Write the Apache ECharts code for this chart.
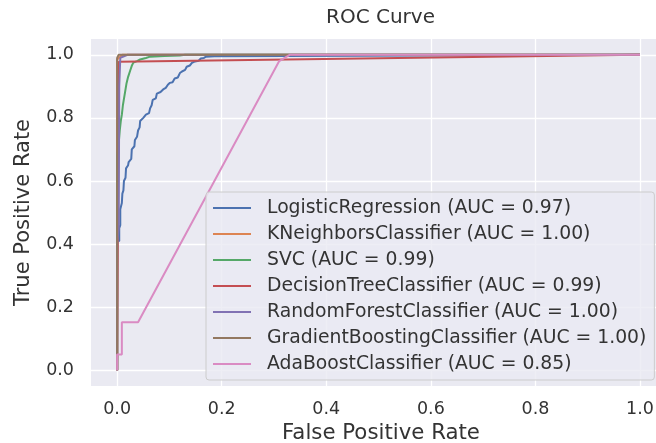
<!DOCTYPE html>
<html>
<head>
<meta charset="utf-8">
<script src="https://cdn.jsdelivr.net/npm/echarts@6/dist/echarts.min.js"></script>
<style>
    html, body { margin: 0; padding: 0; background: #fff; }
    #rocChart { width: 656px; height: 443px; }
</style>
</head>
<body>
<div id="rocChart"></div>
<script>
// tick labels
var xTicks = [0, 0.2, 0.4, 0.6, 0.8, 1.0];
var yTicks = [0, 0.2, 0.4, 0.6, 0.8, 1.0];

var modelNames = [
    'LogisticRegression (AUC = 0.97)',
    'KNeighborsClassifier (AUC = 1.00)',
    'SVC (AUC = 0.99)',
    'DecisionTreeClassifier (AUC = 0.99)',
    'RandomForestClassifier (AUC = 1.00)',
    'GradientBoostingClassifier (AUC = 1.00)',
    'AdaBoostClassifier (AUC = 0.85)'
];

// [fpr, tpr]
var logRegRoc = [[0, 0], [0, 0.41], [0.004, 0.41], [0.004, 0.45], [0.006, 0.46], [0.006, 0.51],
    [0.009, 0.53], [0.010, 0.56], [0.012, 0.57], [0.013, 0.60], [0.016, 0.61], [0.017, 0.64],
    [0.021, 0.65], [0.022, 0.66], [0.027, 0.67], [0.028, 0.70], [0.033, 0.71], [0.034, 0.73],
    [0.038, 0.74], [0.040, 0.76], [0.043, 0.77], [0.044, 0.79], [0.050, 0.80], [0.055, 0.81],
    [0.061, 0.815], [0.063, 0.83], [0.066, 0.84], [0.068, 0.857], [0.074, 0.862], [0.076, 0.877],
    [0.083, 0.882], [0.088, 0.89], [0.093, 0.895], [0.097, 0.905], [0.101, 0.911], [0.106, 0.913],
    [0.110, 0.925], [0.116, 0.928], [0.120, 0.942], [0.124, 0.947], [0.130, 0.952], [0.133, 0.962],
    [0.139, 0.966], [0.143, 0.974], [0.149, 0.979], [0.156, 0.981], [0.160, 0.988], [0.166, 0.990],
    [0.170, 0.994], [0.186, 0.995], [0.186, 1.0], [1, 1]];
var knnRoc = [[0, 0], [0, 0.985], [0.01, 1], [1, 1]];
var svcRoc = [[0, 0], [0, 0.68], [0.003, 0.72], [0.005, 0.76], [0.007, 0.79], [0.009, 0.81],
    [0.011, 0.84], [0.013, 0.86], [0.015, 0.88], [0.018, 0.91], [0.021, 0.93], [0.025, 0.95],
    [0.028, 0.965], [0.031, 0.975], [0.038, 0.98], [0.044, 0.985], [0.055, 0.99], [0.063, 0.994],
    [0.09, 0.996], [0.12, 0.998], [0.13, 1], [1, 1]];
var treeRoc = [[0, 0], [0.003, 0.978], [1, 1]];
var forestRoc = [[0, 0], [0, 0.40], [0.003, 0.45], [0.004, 0.90], [0.006, 0.99], [0.02, 1], [1, 1]];
var boostRoc = [[0, 0], [0, 0.99], [0.003, 1], [1, 1]];
var adaRoc = [[0, 0], [0, 0.05], [0.009, 0.05], [0.009, 0.152], [0.04, 0.152], [0.31, 0.98],
    [0.33, 1], [1, 1]];

var seabornDeep = ['#4C72B0', '#DD8452', '#55A868', '#C44E52', '#8172B3', '#937860', '#DA8BC3'];

var dom = document.getElementById('rocChart');
var myChart = echarts.init(dom, null, { renderer: 'canvas' });

var rocData = [logRegRoc, knnRoc, svcRoc, treeRoc, forestRoc, boostRoc, adaRoc];
var series = rocData.map(function (d, i) {
    return {
        name: modelNames[i],
        type: 'line',
        data: d,
        showSymbol: false,
        clip: false,
        lineStyle: { width: 2, color: seabornDeep[i] },
        itemStyle: { color: seabornDeep[i] }
    };
});

var textColor = '#333333';
var option = {
    animation: false,
    textStyle: { fontFamily: 'DejaVu Sans' },
    title: {
        text: 'ROC Curve',
        left: 321,
        top: 3,
        textStyle: { fontFamily: 'DejaVu Sans', fontSize: 20, fontWeight: 'normal', color: textColor }
    },
    grid: {
        left: 91,
        right: 0,
        top: 39,
        bottom: 57,
        outerBoundsMode: 'none',
        show: true,
        backgroundColor: '#EAEAF2',
        borderWidth: 0
    },
    legend: {
        orient: 'vertical',
        left: 206,
        top: 192,
        padding: [6, 8, 6, 7],
        itemWidth: 38,
        itemHeight: 2,
        itemGap: 6,
        icon: 'rect',
        backgroundColor: 'rgba(234,234,242,0.8)',
        borderColor: '#cccccc',
        borderWidth: 1,
        borderRadius: 3,
        textStyle: {
            fontFamily: 'DejaVu Sans',
            fontSize: 18.8,
            lineHeight: 20,
            color: textColor,
            padding: [0, 0, 0, 11]
        },
        data: modelNames
    },
    xAxis: {
        type: 'value',
        min: -0.05,
        max: 1.0306,
        axisLine: { show: false },
        axisTick: { show: false, customValues: xTicks },
        axisLabel: {
            customValues: xTicks,
            formatter: function (v) { return v.toFixed(1); },
            fontSize: 17.5,
            color: textColor,
            margin: 14
        },
        splitLine: { show: true, lineStyle: { color: '#ffffff', width: 1.3 } },
        name: 'False Positive Rate',
        nameLocation: 'middle',
        nameGap: 34,
        nameTextStyle: { fontSize: 21.3, color: textColor, padding: [0, 0, 0, 15] }
    },
    yAxis: {
        type: 'value',
        min: -0.05,
        max: 1.05,
        axisLine: { show: false },
        axisTick: { show: false, customValues: yTicks },
        axisLabel: {
            customValues: yTicks,
            formatter: function (v) { return v.toFixed(1); },
            fontSize: 17.5,
            color: textColor,
            margin: 17
        },
        splitLine: { show: true, lineStyle: { color: '#ffffff', width: 1.3 } },
        name: 'True Positive Rate',
        nameLocation: 'middle',
        nameGap: 57,
        nameTextStyle: { fontSize: 21, color: textColor }
    },
    series: series
};

myChart.setOption(option);
window.addEventListener('resize', myChart.resize);
</script>
</body>
</html>
